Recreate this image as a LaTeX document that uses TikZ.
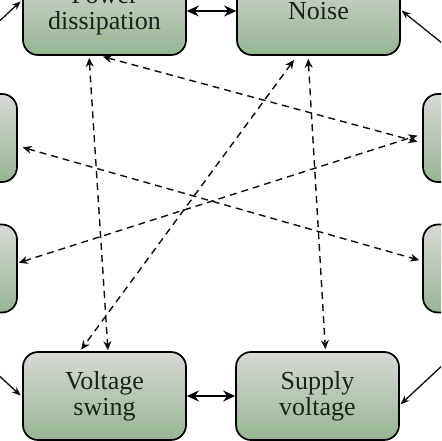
\documentclass[tikz,border=0pt]{standalone}
\usepackage{fontspec}
\setmainfont{Liberation Serif}
\usetikzlibrary{arrows.meta,calc}
\definecolor{boxtop}{HTML}{D8D9D6}
\definecolor{boxbot}{HTML}{96B592}
\definecolor{txt}{HTML}{1A241A}
\tikzset{
  factor/.style={draw=black, line width=1.7pt, rounded corners=15pt,
    top color=boxtop, bottom color=boxbot, minimum width=163pt, minimum height=88pt,
    inner sep=0pt, align=center, text=txt,
    font=\fontsize{26}{26}\selectfont},
  link/.style={line width=1.7pt, {Stealth[length=12pt,width=11pt]}-{Stealth[length=12pt,width=11pt]}},
  dashlink/.style={line width=1.4pt, dash pattern=on 7pt off 5pt, black!95,
    {Stealth[length=9pt,width=8pt]}-{Stealth[length=9pt,width=8pt]}},
  inlink/.style={line width=1.3pt, black!95, -{Stealth[length=9pt,width=7pt]}}
}
\begin{document}
\begin{tikzpicture}[x=1pt,y=1pt]
\useasboundingbox (0,0) rectangle (441,-441);
\clip (0,0) rectangle (441,-441);
\node[factor] (pd) at (104.5,-11) {Power\\dissipation};
\node[factor] (no) at (318.5,-11) {Noise};
\node[factor] (vs) at (104.5,-396) {Voltage\\swing};
\node[factor] (sv) at (317.5,-396) {Supply\\voltage};
\node[factor] (l1) at (-64.5,-138) {};
\node[factor] (l2) at (-64.5,-268.5) {};
\node[factor] (r1) at (504.5,-138) {};
\node[factor] (r2) at (504.5,-268.5) {};
% solid links
\draw[link] (pd.east) -- (no.west);
\draw[link] (vs.east) -- (sv.west);
% incoming arrows from outside
\coordinate (inpd) at (-20,-39);
\coordinate (inno) at (460,-57.6);
\coordinate (invs) at (-20,-358);
\coordinate (insv) at (460,-349);
\draw[inlink, shorten >=2pt] (inpd) -- ([yshift=11pt]pd.west);
\draw[inlink, shorten >=1pt] (inno) -- ([yshift=1pt]no.east);
\draw[inlink, shorten >=2pt] (invs) -- ([yshift=-1pt]vs.west);
\draw[inlink, shorten >=1pt] (insv) -- ([yshift=-9pt]sv.east);
% dashed interactions
\draw[dashlink, shorten <=2pt, shorten >=1pt] ([xshift=-15.5pt]pd.south) -- ([xshift=3.5pt]vs.north);
\draw[dashlink, shorten <=3pt, shorten >=5pt] ([xshift=-4.5pt]pd.south) -- ([yshift=-5pt]r1.west);
\draw[dashlink, shorten <=1pt, shorten >=5pt] ([yshift=5.5pt]l2.east) -- ([yshift=4pt]r1.west);
\draw[dashlink, shorten <=5pt, shorten >=3pt] ([yshift=-8pt]l1.east) -- ([yshift=7.5pt]r2.west);
\draw[dashlink, shorten <=3pt, shorten >=2pt] ([xshift=-10.5pt]no.south) -- ([xshift=8pt]sv.north);
\draw[dashlink, shorten <=5pt, shorten >=2pt] ([xshift=-21.5pt]no.south) -- ([xshift=-24.5pt]vs.north);
\end{tikzpicture}
\end{document}
